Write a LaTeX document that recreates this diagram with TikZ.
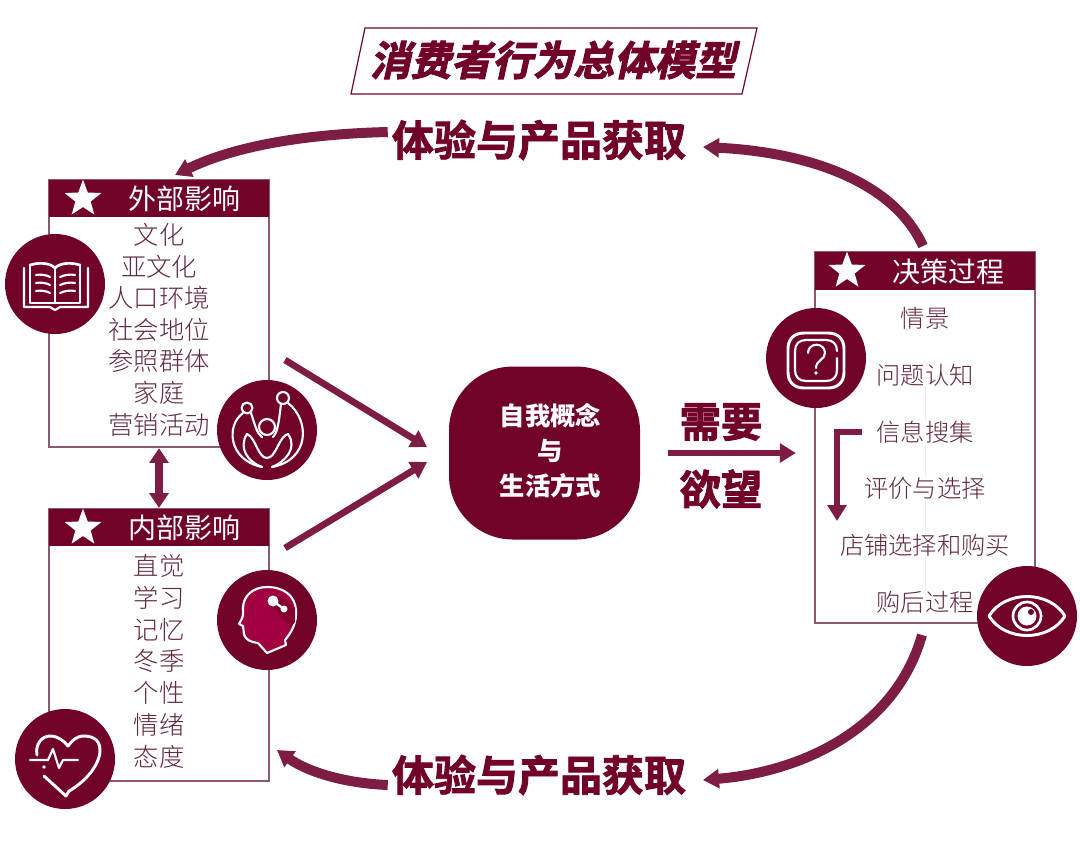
\documentclass[tikz,border=0pt]{standalone}
\usepackage{fontspec}
\setmainfont{Noto Sans CJK SC Light}
\newfontfamily\cjkmid{Noto Sans CJK SC}
\newfontfamily\cjkhead[FakeBold=2]{Noto Sans CJK SC Bold}
\newfontfamily\cjkslant[FakeBold=2.5,FakeSlant=0.22]{Noto Sans CJK SC Bold}
\usetikzlibrary{positioning, arrows.meta, shapes.geometric}
\definecolor{wine}{HTML}{720328}
\definecolor{winearrow}{HTML}{7E1D44}
\definecolor{winetext}{HTML}{622842}
\definecolor{wineline}{HTML}{8A5A70}
\definecolor{winehead}{HTML}{A00040}
\definecolor{wineshade}{HTML}{84002F}
\tikzset{
  itemtext/.style={font=\fontsize{19}{19}\selectfont, text=winetext, inner sep=0pt},
  decitem/.style={font=\fontsize{18.2}{18.2}\selectfont, text=winetext, inner sep=0pt},
  boxbody/.style={draw=wineline, line width=0.8pt, fill=white, minimum width=165pt, inner sep=0pt},
  boxhead/.style={fill=wine, minimum width=165pt, minimum height=28pt, inner sep=0pt},
  headtext/.style={font=\cjkmid\fontsize{21}{21}\selectfont, text=white, inner sep=0pt},
  coretext/.style={font=\cjkmid\bfseries\fontsize{19}{19}\selectfont, text=white, inner sep=0pt},
  badge/.style={circle, fill=wine, minimum size=75pt, inner sep=0pt},
  whitestar/.style={star, star points=5, star point ratio=2.4, fill=white, minimum size=29pt, inner sep=0pt},
  bigtext/.style={font=\cjkhead\fontsize{31.5}{31.5}\selectfont, text=wine, inner sep=3pt},
  flowarc/.style={draw=winearrow, line width=7.5pt, -{Triangle[width=14pt,length=12pt]}},
  flowline/.style={draw=winearrow, line width=5pt, -{Triangle[width=14pt,length=12pt]}},
  iconline/.style={draw=white, line width=1.6pt, line cap=round, line join=round}
}
\begin{document}
\begin{tikzpicture}[x=0.75pt, y=-0.75pt]
\useasboundingbox (0,0) rectangle (1080,861);
% title
\draw[draw=wine, line width=0.9pt] (365,28) -- (757,28) -- (742,94) -- (351,94) -- cycle;
\node[font=\cjkslant\fontsize{30.5}{30.5}\selectfont, text=wine, inner sep=0pt] (title) at (553,60){消费者行为总体模型};
\node[bigtext] (hltop) at (539,140){体验与产品获取};
\node[bigtext] (hlbot) at (539,775){体验与产品获取};

% external box
\node[boxbody, minimum height=200.25pt] (extbox) at (159,313.5){};
\node[boxhead] (exthead) at (159,198.5){};
\node[whitestar] (extstar) at (83,199){};
\node[headtext] (exttitle) at (184,199){外部影响};
\node[itemtext] (e1) at (159,235){文化};
\begin{scope}[node distance=23.7pt]
\node[itemtext, below of=e1] (e2){亚文化};
\node[itemtext, below of=e2] (e3){人口环境};
\node[itemtext, below of=e3] (e4){社会地位};
\node[itemtext, below of=e4] (e5){参照群体};
\node[itemtext, below of=e5] (e6){家庭};
\node[itemtext, below of=e6] (e7){营销活动};
\end{scope}

% internal box
\node[boxbody, minimum height=204pt] (intbox) at (159,645){};
\node[boxhead] (inthead) at (159,527.5){};
\node[whitestar] (intstar) at (83,528){};
\node[headtext] (inttitle) at (184,528){内部影响};
\node[itemtext] (i1) at (159,566){直觉};
\begin{scope}[node distance=23.8pt]
\node[itemtext, below of=i1] (i2){学习};
\node[itemtext, below of=i2] (i3){记忆};
\node[itemtext, below of=i3] (i4){冬季};
\node[itemtext, below of=i4] (i5){个性};
\node[itemtext, below of=i5] (i6){情绪};
\node[itemtext, below of=i6] (i7){态度};
\end{scope}

% decision box
\node[boxbody, minimum height=278.25pt] (decbox) at (925,437.5){};
\node[boxhead] (dechead) at (925,271){};
\node[whitestar] (decstar) at (847,271){};
\node[headtext] (dectitle) at (948,272){决策过程};
\node[decitem] (d1) at (925,318.5){情景};
\begin{scope}[node distance=42.55pt]
\node[decitem, below of=d1] (d2){问题认知};
\node[decitem, below of=d2] (d3){信息搜集};
\node[decitem, below of=d3] (d4){评价与选择};
\node[decitem, below of=d4] (d5){店铺选择和购买};
\node[decitem, below of=d5] (d6){购后过程};
\end{scope}

% centre
\node[fill=wine, rounded corners=48pt, minimum width=143.25pt, minimum height=129.75pt, inner sep=0pt] (core) at (544.5,453){};
\node[coretext] (c1) at (550.5,416){自我概念};
\node[coretext, below of=c1, node distance=26pt] (c2){与};
\node[coretext, below of=c2, node distance=26pt] (c3){生活方式};
\node[bigtext, font=\cjkhead\fontsize{31}{31}\selectfont] (need) at (721,422){需要};
\node[bigtext, font=\cjkhead\fontsize{31}{31}\selectfont] (want) at (721,489){欲望};

% free ends
\coordinate (extout) at (285,360);
\coordinate (intout) at (285,548);
\coordinate (coreup) at (427,447);
\coordinate (coredown) at (427,462);
\coordinate (topleftend) at (175,175);
\coordinate (toprightstart) at (923,246);
\coordinate (toprightend) at (703,147);
\coordinate (botrightstart) at (922,635);
\coordinate (botrightend) at (703,780);
\coordinate (botleftend) at (277,750);
\coordinate (bendtop) at (862,432);
\coordinate (bendcorner) at (837,432);
\coordinate (bendend) at (837,521);

% connectors
\draw[flowarc] ([yshift=6pt]hltop.west) .. controls (305,134) and (235,146) .. (topleftend);
\draw[flowarc] (toprightstart) .. controls (893,180) and (805,152) .. (toprightend);
\draw[flowarc] (botrightstart) .. controls (895,730) and (800,772) .. (botrightend);
\draw[flowarc] ([yshift=-7.5pt]hlbot.west) .. controls (340,783) and (305,770) .. (botleftend);
\draw[flowline] (extout) -- (coreup);
\draw[flowline] (intout) -- (coredown);
\draw[flowline, shorten <=21pt, shorten >=14pt] (core.east) -- (decbox.west |- core.east);
\draw[flowline, line width=6.5pt, {Triangle[width=14pt,length=11pt]}-{Triangle[width=14pt,length=11pt]}, shorten <=0.5pt, shorten >=0.5pt] (extbox.south) -- (exthead.center |- inthead.north);
\draw[flowline] (bendtop) -- (bendcorner) -- (bendend);
\draw[draw=black!7, line width=0.6pt] (d2.south) -- (d3.north) (d3.south) -- (d4.north) (d4.south) -- (d5.north) (d5.south) -- (d6.north);

% badges
\node[badge] (book) at (55,284){};
\node[badge] (family) at (267,430){};
\node[badge] (brain) at (267,620){};
\node[badge] (heart) at (65,759){};
\node[badge] (question) at (816,358){};
\node[badge] (eye) at (1027,616){};

% book icon
\draw[iconline, line width=2pt] (30,265) -- (30,303) -- (80,303) -- (80,265);
\draw[iconline, line width=2pt] (30,265) .. controls (40,262) and (50,263) .. (55,268) .. controls (60,263) and (70,262) .. (80,265);
\draw[iconline, line width=2pt] (55,268) -- (55,303);
\draw[iconline] (24,268) -- (24,307) -- (50,307) -- (55,310) -- (60,307) -- (88,307) -- (88,268);
\foreach \yy in {275,283,291}{
  \draw[iconline] (36,\yy) .. controls (41,\yy-1) and (46,\yy) .. (50,\yy+2);
  \draw[iconline] (60,\yy+2) .. controls (64,\yy) and (70,\yy-1) .. (75,\yy);
}

% family icon
\draw[iconline] (247,408) circle (5.5);
\draw[iconline] (283,398) circle (6);
\draw[iconline] (267,427) circle (8);
\draw[iconline] (243,413) .. controls (226,425) and (228,460) .. (262,467);
\draw[iconline] (251,413) .. controls (255,425) and (257,434) .. (262,437);
\draw[iconline] (281,404) .. controls (279,420) and (278,432) .. (273,437);
\draw[iconline] (288,403) .. controls (310,420) and (310,460) .. (272,467);
\draw[iconline] (247,434) .. controls (256,438) and (258,458) .. (267,458) .. controls (276,458) and (279,436) .. (288,434);
\draw[iconline] (247,434) .. controls (238,448) and (248,462) .. (262,467);
\draw[iconline] (288,434) .. controls (298,448) and (285,462) .. (272,467);

% brain icon
\fill[winehead, draw=white, line width=1.6pt, line join=round] (286,645) -- (285,640) .. controls (292,632) and (297,622) .. (296,610) .. controls (295,596) and (284,587) .. (267,587) .. controls (252,587) and (243,597) .. (243,608) .. controls (243,614) and (244,616) .. (240,622) -- (239,624) -- (243,626) -- (244,634) .. controls (246,641) and (252,642) .. (258,643) -- (267,653) -- cycle;
\fill[wineshade] (269,604) -- (279,596) -- (295,608) -- (295,622) -- (291,627) -- cycle;
\fill[white] (273,601) circle (5.5);
\fill[white] (284,609) circle (3.5);
\draw[white, line width=1.8pt] (273,601) -- (284,609);

% heart icon
\draw[iconline, line width=2.2pt] (44,776) -- (66,796) -- (69,791) .. controls (85,782) and (100,765) .. (100,750) .. controls (100,738) and (90,736) .. (84,736) .. controls (76,736) and (72,741) .. (68,746) .. controls (64,741) and (58,736) .. (50,736) .. controls (42,736) and (35,744) .. (37,755);
\draw[iconline] (30,760) -- (48,760) -- (53,749) -- (59,768) -- (63,760) -- (78,760);
\fill[white] (44,767) circle (1.8);

% question icon
\draw[iconline, line width=2.2pt] (804,333) -- (828,333) .. controls (838,333) and (844,339) .. (844,349) -- (844,372) .. controls (844,382) and (838,388) .. (828,388) -- (804,388) .. controls (794,388) and (788,382) .. (788,372) -- (788,349) .. controls (788,339) and (794,333) .. (804,333);
\draw[iconline] (806,340) -- (826,340) .. controls (833,340) and (837,344) .. (837,351);
\draw[iconline] (837,358) -- (837,370) .. controls (837,377) and (833,381) .. (826,381) -- (806,381) .. controls (799,381) and (795,377) .. (795,370) -- (795,351) .. controls (795,344) and (799,340) .. (806,340);
\draw[iconline] (808,353) .. controls (808,342) and (825,342) .. (825,353) .. controls (825,360) and (816,360) .. (816,368);
\fill[white] (816,373) circle (1.8);

% eye icon
\draw[iconline, line width=2.2pt] (989,616) .. controls (1005,590) and (1049,590) .. (1065,616) .. controls (1049,642) and (1005,642) .. (989,616) -- cycle;
\draw[iconline, line width=2pt] (1027,616) circle (14);
\fill[white] (1027,616) circle (9.5);
\fill[wine] (1031,612) circle (3);
\end{tikzpicture}
\end{document}
